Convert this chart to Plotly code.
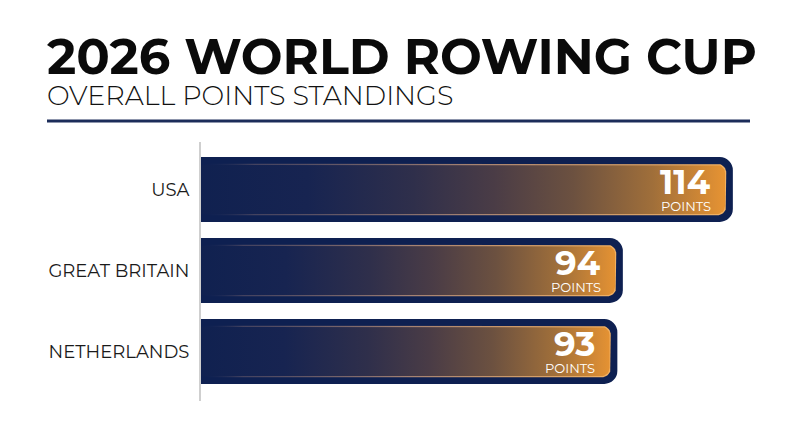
import numpy as np
import plotly.graph_objects as go

# ---- data ----
countries = ["USA", "GREAT BRITAIN", "NETHERLANDS"]
points = [114, 94, 93]
value_label = "POINTS"
title = "2026 WORLD ROWING CUP"
subtitle = "OVERALL POINTS STANDINGS"

# ---- layout constants ----
OFF = 8            # page body offset of the rendered html
W, H = 800, 447
ML, MT = 201 - OFF, 142 - OFF
PB = 401 - OFF     # plot bottom in px
MR = 40
MB = H - PB
PW, PH = W - ML - MR, H - MT - MB
PXX = 5.5          # px per point
PXY = 81.0         # px per category
XMIN = 17.3
XMAX = XMIN + PW / PXX
YTOP = -(189.5 - 142) / PXY
YBOT = 2 + (401 - 351.5) / PXY

NAVY = "#0e2051"
BAR_H = 0.8
GRAD = [[0.0, "#102150"], [0.2, "#172451"], [0.4, "#2f2f4b"],
        [0.55, "#4a3c46"], [0.7, "#6c5140"], [0.85, "#a06f3a"],
        [1.0, "#ee9732"]]
RIM = [[0.0, "rgba(20,36,84,0)"], [0.1, "rgba(120,100,110,0.5)"],
       [0.5, "#a58272"], [1.0, "#f4b262"]]

FONT = "Montserrat, 'Open Sans', sans-serif"


def rounded_path(x_left, x_right, yc, half_px, r_px, inset_px):
    """Closed path for a bar with rounded right end, in data units."""
    xr = x_right - inset_px / PXX
    h = (half_px - inset_px) / PXY
    rx, ry = r_px / PXX, r_px / PXY
    xs, ys = [x_left, xr - rx], [yc - h, yc - h]
    t = np.linspace(-np.pi / 2, 0, 10)
    xs += list(xr - rx + rx * np.cos(t)); ys += list(yc - h + ry + ry * np.sin(t))
    t = np.linspace(0, np.pi / 2, 10)
    xs += list(xr - rx + rx * np.cos(t)); ys += list(yc + h - ry + ry * np.sin(t))
    xs += [x_left, x_left]; ys += [yc + h, yc - h]
    return xs, ys


fig = go.Figure()
ypos = list(range(len(countries)))

# outer navy bars
fig.add_trace(go.Bar(
    y=ypos, x=points, orientation="h", width=BAR_H,
    marker=dict(color=NAVY, cornerradius=13, line=dict(width=0)),
    hoverinfo="skip", showlegend=False))

half_px = BAR_H * PXY / 2
for i, v in enumerate(points):
    xs, ys = rounded_path(XMIN, v, i, half_px, 9, 6.6)
    fig.add_trace(go.Scatter(
        x=xs, y=ys, mode="lines", fill="toself", line=dict(width=0),
        fillgradient=dict(type="horizontal", colorscale=RIM, start=XMIN, stop=v),
        hoverinfo="skip", showlegend=False))
    xs, ys = rounded_path(XMIN, v, i, half_px, 8, 7.8)
    fig.add_trace(go.Scatter(
        x=xs, y=ys, mode="lines", fill="toself", line=dict(width=0),
        fillgradient=dict(type="horizontal", colorscale=GRAD, start=XMIN, stop=v),
        hoverinfo="skip", showlegend=False))
    fig.add_annotation(x=v, y=i, xref="x", yref="y", text=f"<b>{v}</b>",
                       showarrow=False, xanchor="right", yanchor="middle",
                       xshift=-20, yshift=8,
                       font=dict(family=FONT, size=34, color="white", weight=800))
    fig.add_annotation(x=v, y=i, xref="x", yref="y", text=value_label,
                       showarrow=False, xanchor="right", yanchor="middle",
                       xshift=-20, yshift=-16,
                       font=dict(family=FONT, size=13, color="white"))


def px_x(px):
    return (px - OFF - ML) / PW


def px_y(py):
    return (PB - (py - OFF)) / PH


fig.add_annotation(x=px_x(45), y=px_y(56), xref="paper", yref="paper",
                   text=f"<b>{title}</b>", showarrow=False,
                   xanchor="left", yanchor="middle",
                   font=dict(family=FONT, size=49.5, color="#0a0a0a", weight=800))
fig.add_annotation(x=px_x(45), y=px_y(96), xref="paper", yref="paper",
                   text=subtitle, showarrow=False,
                   xanchor="left", yanchor="middle",
                   font=dict(family=FONT, size=27, color="#111111", weight=300))
fig.add_shape(type="line", xref="paper", yref="paper",
              x0=px_x(47), x1=px_x(750), y0=px_y(121), y1=px_y(121),
              line=dict(color="#1c2d5a", width=3))

fig.update_layout(
    width=W, height=H, margin=dict(l=ML, r=MR, t=MT, b=MB),
    paper_bgcolor="white", plot_bgcolor="white",
    xaxis=dict(range=[XMIN, XMAX], visible=False, fixedrange=True),
    yaxis=dict(range=[YBOT, YTOP], tickvals=ypos, ticktext=countries,
               showgrid=False, zeroline=False, showline=True,
               linecolor="#cfcfcf", linewidth=2, ticks="",
               ticklabelstandoff=6,
               tickfont=dict(family=FONT, size=18, color="#1a1a1a"),
               fixedrange=True),
    bargap=0.2,
)

fig.write_html("out.html")
